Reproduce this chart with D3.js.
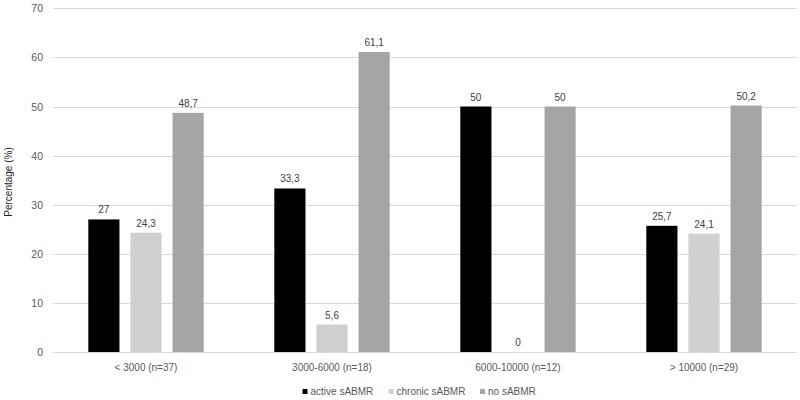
<!DOCTYPE html>
<html><head><meta charset="utf-8">
<script src="https://cdn.jsdelivr.net/npm/d3@7"></script>
<style>body{margin:0;background:#fff}svg{display:block}</style>
</head><body>
<svg id="c" width="800" height="400"></svg>
<script>
const categories = ["< 3000 (n=37)", "3000-6000 (n=18)", "6000-10000 (n=12)", "> 10000 (n=29)"];
const seriesNames = ["active sABMR", "chronic sABMR", "no sABMR"];
const activeValues = [27, 33.3, 50, 25.7];
const chronicValues = [24.3, 5.6, 0, 24.1];
const noValues = [48.7, 61.1, 50, 50.2];
const yTicks = [0, 10, 20, 30, 40, 50, 60, 70];
const colors = ["#000000", "#d0d0d0", "#a5a5a5"];

const series = [activeValues, chronicValues, noValues];
const svg = d3.select("#c");
const font = "Liberation Sans, Arial, sans-serif";
const textColor = "#595959";
const x0 = d3.scaleBand().domain(categories).range([53, 797]).paddingInner(0).paddingOuter(0);
const y = d3.scaleLinear().domain([0, 70]).range([352, 8.3]);
const x1 = d3.scaleBand().domain(seriesNames).range([35.3, 150.7]).paddingInner(0.26).paddingOuter(0);

// grid
svg.append("g").selectAll("line").data(yTicks).join("line")
  .attr("x1", 53).attr("x2", 797)
  .attr("y1", d => Math.round(y(d)) + 0.5).attr("y2", d => Math.round(y(d)) + 0.5)
  .attr("stroke", "#d9d9d9").attr("stroke-width", 1);

// y tick labels
svg.append("g").selectAll("text").data(yTicks).join("text")
  .attr("x", 43).attr("y", d => y(d) + 4)
  .attr("text-anchor", "end").attr("font-family", font).attr("font-size", 10.5)
  .attr("fill", textColor).text(d => d);

// bars
const groups = svg.append("g").selectAll("g").data(categories).join("g")
  .attr("transform", d => `translate(${x0(d)},0)`);
groups.each(function(cat, ci) {
  const g = d3.select(this);
  seriesNames.forEach((s, si) => {
    const v = series[si][ci];
    const bx = x1(s);
    g.append("rect").attr("x", bx).attr("width", x1.bandwidth())
      .attr("y", y(v)).attr("height", y(0) - y(v)).attr("fill", colors[si]);
    g.append("text").attr("x", bx + x1.bandwidth() / 2).attr("y", y(v) - 6)
      .attr("text-anchor", "middle").attr("font-family", font).attr("font-size", 10)
      .attr("fill", "#404040").text(String(v).replace(".", ","));
  });
});

// x labels
svg.append("g").selectAll("text").data(categories).join("text")
  .attr("x", d => x0(d) + x0.bandwidth() / 2).attr("y", 371)
  .attr("text-anchor", "middle").attr("font-family", font).attr("font-size", 10)
  .attr("fill", textColor).text(d => d);

// y axis title
svg.append("text").attr("transform", "translate(12,182) rotate(-90)")
  .attr("text-anchor", "middle").attr("font-family", font).attr("font-size", 10)
  .attr("fill", "#262626").text("Percentage (%)");

// legend
const legX = [302.5, 388.5, 480];
const leg = svg.append("g").selectAll("g").data(seriesNames).join("g")
  .attr("transform", (d, i) => `translate(${legX[i]},393)`);
leg.append("rect").attr("x", 0).attr("y", -4).attr("width", 5).attr("height", 5)
  .attr("fill", (d, i) => colors[i]);
leg.append("text").attr("x", 8).attr("y", 1.5).attr("font-family", font).attr("font-size", 10)
  .attr("fill", textColor).text(d => d);
</script>
</body></html>
